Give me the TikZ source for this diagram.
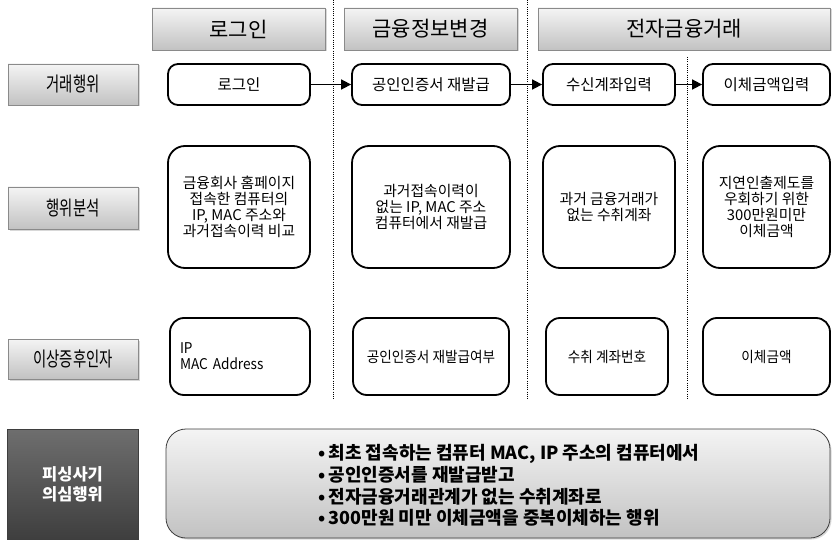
\documentclass[tikz,border=0pt]{standalone}
\usepackage{fontspec}
\setmainfont{Noto Sans CJK KR}
\newfontfamily\kcond[FakeStretch=0.72]{Noto Sans CJK KR}
\newfontfamily\krow[FakeStretch=0.92]{Noto Sans CJK KR}
\usetikzlibrary{shadows,arrows.meta}
\definecolor{edgegray}{HTML}{8A8A8A}
\definecolor{topgray}{HTML}{F4F4F4}
\definecolor{botgray}{HTML}{C2C2C2}
\definecolor{darktop}{HTML}{6E6E6E}
\definecolor{darkbot}{HTML}{3E3E3E}
\tikzset{
  hdr/.style={draw=edgegray, line width=0.6pt, top color=topgray, bottom color=botgray,
    drop shadow={opacity=0.3, shadow xshift=1.5pt, shadow yshift=-1.5pt},
    inner sep=0pt, font=\fontsize{21}{24}\selectfont},
  lbl/.style={hdr, font=\kcond\fontsize{20}{24}\selectfont},
  dark/.style={draw=darkbot, line width=0.6pt, top color=darktop, bottom color=darkbot,
    inner sep=0pt, text=white, align=center, font=\bfseries\fontsize{16.5}{19.5}\selectfont},
  act/.style={draw=black, line width=1.8pt, rounded corners=10pt, fill=white,
    inner sep=0pt, align=center, font=\fontsize{15.5}{16}\selectfont},
  anal/.style={act, rounded corners=17pt, font=\fontsize{14.8}{15.8}\selectfont},
  sym/.style={act, rounded corners=14pt, font=\krow\fontsize{14.8}{16}\selectfont},
  summ/.style={draw=darkbot, line width=0.8pt, rounded corners=20pt, top color=topgray, bottom color=botgray,
    drop shadow={opacity=0.3, shadow xshift=1.5pt, shadow yshift=-1.5pt}, inner sep=0pt},
  sumtext/.style={align=left, inner sep=0pt, font=\bfseries\fontsize{18}{21.7}\selectfont},
  flow/.style={line width=1.6pt, -{Triangle[length=10pt,width=10pt]}},
  sep/.style={line width=0.9pt, dotted, dash pattern=on 1pt off 1.2pt}
}
\begin{document}
\begin{tikzpicture}[x=1pt,y=-1pt]
\useasboundingbox (0,0) rectangle (832,540);
\fill[white] (0,0) rectangle (832,540);
% separators
\coordinate (v1t) at (333,0);   \coordinate (v1b) at (333,400);
\coordinate (v2t) at (527,0);   \coordinate (v2b) at (527,400);
\coordinate (v3t) at (687,57);  \coordinate (v3b) at (687,400);
\draw[sep] (v1t) -- (v1b);
\draw[sep] (v2t) -- (v2b);
\draw[sep] (v3t) -- (v3b);
% headers
\node[hdr, minimum width=173pt, minimum height=42pt] (h1) at (238.5,29) {로그인};
\node[hdr, minimum width=173pt, minimum height=42pt] (h2) at (430.5,29) {금융정보변경};
\node[hdr, minimum width=292pt, minimum height=42pt] (h3) at (684,29) {전자금융거래};
% row labels
\node[lbl, minimum width=130pt, minimum height=41pt] (l1) at (73,84.5) {거래행위};
\node[lbl, minimum width=130pt, minimum height=42pt] (l2) at (73,208) {행위분석};
\node[lbl, minimum width=130pt, minimum height=40pt] (l3) at (73,359) {이상증후인자};
\node[dark, minimum width=131pt, minimum height=111pt] (l4) at (72.5,484.5) {피싱사기\\의심행위};
% row 1
\node[act, minimum width=142pt, minimum height=41pt] (a1) at (239,84.5) {로그인};
\node[act, minimum width=158pt, minimum height=41pt] (a2) at (431,84.5) {공인인증서 재발급};
\node[act, minimum width=132pt, minimum height=41pt] (a3) at (609,84.5) {수신계좌입력};
\node[act, minimum width=127pt, minimum height=41pt] (a4) at (766.5,84.5) {이체금액입력};
\draw[flow] (a1) -- (a2);
\draw[flow] (a2) -- (a3);
\draw[flow] (a3) -- (a4);
% row 2
\node[anal, minimum width=142pt, minimum height=122pt] (b1) at (239,207) {금융회사 홈페이지\\접속한 컴퓨터의\\IP, MAC 주소와\\과거접속이력 비교};
\node[anal, minimum width=158pt, minimum height=122pt] (b2) at (431,207) {과거접속이력이\\없는 IP, MAC 주소\\컴퓨터에서 재발급};
\node[anal, minimum width=132pt, minimum height=122pt] (b3) at (609,207) {과거 금융거래가\\없는 수취계좌};
\node[anal, minimum width=127pt, minimum height=122pt] (b4) at (766.5,207) {지연인출제도를\\우회하기 위한\\300만원미만\\이체금액};
% row 3
\node[sym, align=left, text width=120pt, minimum width=140pt, minimum height=77pt] (c1) at (240,356.5) {IP\\MAC Address};
\node[sym, minimum width=156pt, minimum height=77pt] (c2) at (431,356.5) {공인인증서 재발급여부};
\node[sym, minimum width=122pt, minimum height=77pt] (c3) at (607,356.5) {수취 계좌번호};
\node[sym, minimum width=127pt, minimum height=77pt] (c4) at (766.5,356.5) {이체금액};
% summary
\node[summ, minimum width=664pt, minimum height=109pt] (d) at (498,483.5) {};
\node[sumtext] (dt) at (509,485.5) {•\hspace{3pt}최초 접속하는 컴퓨터 MAC, IP 주소의 컴퓨터에서\\
•\hspace{3pt}공인인증서를 재발급받고\\
•\hspace{3pt}전자금융거래관계가 없는 수취계좌로\\
•\hspace{3pt}300만원 미만 이체금액을 중복이체하는 행위};
\end{tikzpicture}
\end{document}
